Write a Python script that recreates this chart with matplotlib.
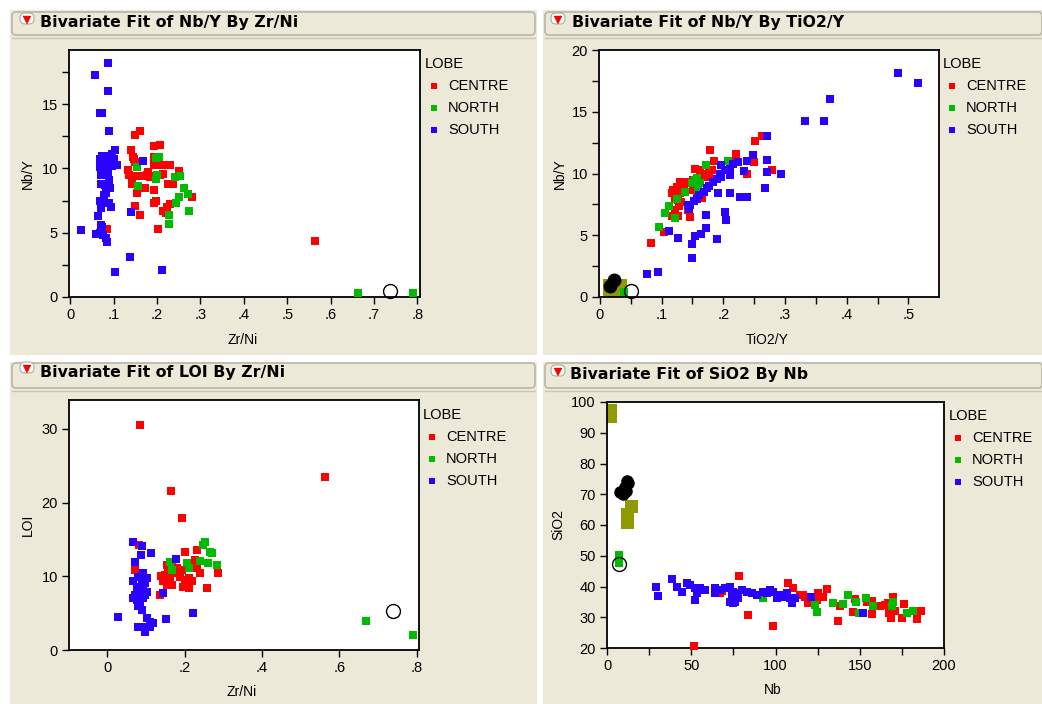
import matplotlib
matplotlib.use("Agg")
import matplotlib.pyplot as plt
from matplotlib.patches import Rectangle, FancyBboxPatch
from matplotlib.ticker import FuncFormatter, MultipleLocator

W, H = 1042, 704
plt.rcParams['font.family'] = ['Liberation Sans', 'DejaVu Sans']

groups = ["CENTRE", "NORTH", "SOUTH"]
group_colors = ["#FF0000", "#00BB00", "#2A00FF"]
legend_title = "LOBE"

titles = ["Bivariate Fit of Nb/Y By Zr/Ni", "Bivariate Fit of Nb/Y By TiO2/Y",
          "Bivariate Fit of LOI By Zr/Ni", "Bivariate Fit of SiO2 By Nb"]
xlabels = ["Zr/Ni", "TiO2/Y", "Zr/Ni", "Nb"]
ylabels = ["Nb/Y", "Nb/Y", "LOI", "SiO2"]

# ---------------- Panel 1: Nb/Y by Zr/Ni ----------------
p1_centre_x = [0.160, 0.150, 0.192, 0.207, 0.141, 0.145, 0.150, 0.147, 0.192, 0.199, 0.192, 0.203, 0.214, 0.229,
               0.250, 0.133, 0.135, 0.143, 0.143, 0.154, 0.165, 0.177, 0.184, 0.195, 0.207, 0.213, 0.180, 0.173,
               0.154, 0.194, 0.226, 0.237, 0.280, 0.198, 0.192, 0.229, 0.222, 0.214, 0.220, 0.148, 0.160, 0.201,
               0.085, 0.070, 0.564]
p1_centre_y = [12.93, 12.6, 11.74, 11.8, 11.4, 10.9, 10.5, 10.7, 10.9, 10.6, 10.26, 10.26, 10.26, 10.26,
               9.8, 9.87, 9.5, 9.0, 8.75, 9.4, 9.4, 9.5, 9.3, 9.4, 9.5, 9.6, 9.7, 8.45,
               8.1, 8.3, 8.8, 8.8, 7.8, 7.5, 7.3, 7.2, 7.0, 6.7, 6.5, 7.1, 6.4, 5.3,
               5.26, 7.3, 4.37]
p1_north_x = [0.154, 0.198, 0.205, 0.199, 0.197, 0.156, 0.241, 0.253, 0.261, 0.272, 0.250, 0.243, 0.274, 0.228,
              0.228, 0.664, 0.789]
p1_north_y = [10.1, 10.8, 10.9, 9.5, 9.2, 8.65, 9.3, 9.4, 8.45, 8.0, 7.8, 7.3, 6.7, 6.4,
              5.65, 0.26, 0.26]
p1_south_x = [0.086, 0.056, 0.086, 0.069, 0.072, 0.090, 0.104, 0.095, 0.072, 0.080, 0.087, 0.068, 0.076, 0.084,
              0.094, 0.101, 0.107, 0.068, 0.075, 0.082, 0.090, 0.097, 0.071, 0.079, 0.086, 0.090, 0.070, 0.079,
              0.086, 0.092, 0.082, 0.078, 0.068, 0.074, 0.090, 0.094, 0.070, 0.064, 0.070, 0.074, 0.060, 0.068,
              0.076, 0.082, 0.084, 0.024, 0.167, 0.141, 0.137, 0.104, 0.211]
p1_south_y = [18.2, 17.3, 16.0, 14.3, 14.35, 12.9, 11.4, 11.1, 11.0, 11.0, 10.9, 10.7, 10.6, 10.7,
              10.8, 10.7, 10.3, 10.1, 10.0, 10.1, 10.2, 10.2, 9.5, 9.5, 9.6, 9.1, 8.8, 8.7,
              8.6, 8.5, 8.1, 7.9, 7.5, 7.5, 7.3, 7.0, 6.9, 6.3, 5.6, 5.4, 4.9, 5.0,
              4.8, 4.6, 4.3, 5.2, 10.6, 6.6, 3.1, 1.9, 2.05]
p1_open_x = [0.738]
p1_open_y = [0.47]

# ---------------- Panel 2: Nb/Y by TiO2/Y ----------------
p2_centre_x = [0.263, 0.251, 0.178, 0.220, 0.221, 0.185, 0.249, 0.279, 0.238, 0.154, 0.162, 0.170, 0.176, 0.181,
               0.176, 0.168, 0.159, 0.151, 0.146, 0.135, 0.129, 0.125, 0.119, 0.116, 0.124, 0.130, 0.137, 0.122,
               0.127, 0.132, 0.128, 0.122, 0.116, 0.127, 0.146, 0.103, 0.083, 0.151, 0.157, 0.165, 0.142]
p2_centre_y = [13.0, 12.6, 11.9, 11.6, 11.3, 11.04, 10.96, 10.3, 9.93, 10.34, 10.28, 10.0, 10.1, 10.3,
               9.75, 9.7, 9.5, 9.5, 9.3, 9.35, 9.3, 8.93, 8.7, 8.4, 8.4, 8.45, 8.66, 8.0,
               7.85, 7.7, 7.37, 7.04, 6.56, 6.56, 6.5, 5.29, 4.34, 8.66, 8.4, 8.0, 7.04]
p2_north_x = [0.172, 0.154, 0.157, 0.150, 0.162, 0.159, 0.138, 0.125, 0.112, 0.105, 0.121, 0.096, 0.208, 0.039]
p2_north_y = [10.7, 9.5, 9.6, 9.2, 9.2, 8.66, 8.53, 7.93, 7.4, 6.8, 6.4, 5.7, 11.0, 0.38]
p2_south_x = [0.484, 0.515, 0.373, 0.332, 0.364, 0.270, 0.270, 0.270, 0.293, 0.268, 0.248, 0.238, 0.234, 0.224,
              0.215, 0.211, 0.203, 0.196, 0.194, 0.197, 0.189, 0.183, 0.177, 0.173, 0.168, 0.161, 0.157, 0.152,
              0.146, 0.142, 0.211, 0.227, 0.238, 0.192, 0.211, 0.172, 0.202, 0.204, 0.112, 0.126, 0.172, 0.164,
              0.154, 0.190, 0.149, 0.149, 0.077, 0.094, 0.145]
p2_south_y = [18.16, 17.35, 16.03, 14.25, 14.25, 13.0, 11.1, 10.1, 10.0, 8.8, 11.5, 11.0, 10.2, 10.96,
              10.8, 10.4, 10.3, 10.7, 10.0, 9.74, 9.53, 9.34, 9.0, 8.8, 8.53, 8.26, 7.91, 7.8,
              7.45, 7.45, 9.87, 8.07, 8.12, 8.4, 8.4, 6.6, 6.91, 6.24, 5.37, 4.8, 5.6, 5.1,
              4.94, 4.7, 4.26, 3.13, 1.9, 2.0, 7.1]
p2_black_x = [0.016, 0.022]
p2_black_y = [0.89, 1.4]
p2_open_x = [0.050]
p2_open_y = [0.51]
p2_olive_x0, p2_olive_x1 = [0.005], [0.043]
p2_olive_y0, p2_olive_y1 = [0.02], [1.46]

# ---------------- Panel 3: LOI by Zr/Ni ----------------
p3_centre_x = [0.085, 0.164, 0.194, 0.564, 0.201, 0.232, 0.072, 0.083, 0.287, 0.257, 0.241, 0.137, 0.154, 0.167,
               0.179, 0.192, 0.205, 0.218, 0.227, 0.231, 0.149, 0.162, 0.175, 0.188, 0.201, 0.210, 0.218, 0.145,
               0.154, 0.167, 0.197, 0.210, 0.140, 0.158]
p3_centre_y = [30.5, 21.5, 17.9, 23.4, 13.3, 13.6, 10.9, 14.3, 10.5, 8.45, 10.4, 7.5, 11.5, 11.3,
               11.1, 10.85, 11.3, 11.5, 12.2, 11.1, 10.2, 9.7, 10.4, 9.95, 9.5, 9.7, 9.4, 9.3,
               8.8, 8.8, 8.6, 8.4, 10.0, 10.5]
p3_north_x = [0.253, 0.248, 0.266, 0.272, 0.162, 0.167, 0.207, 0.210, 0.240, 0.261, 0.283, 0.670, 0.790]
p3_north_y = [14.7, 14.25, 13.3, 13.1, 12.0, 10.85, 11.8, 11.1, 12.1, 11.85, 11.5, 3.9, 2.04]
p3_south_x = [0.067, 0.089, 0.113, 0.086, 0.072, 0.178, 0.093, 0.102, 0.089, 0.097, 0.067, 0.076, 0.085, 0.093,
              0.102, 0.067, 0.076, 0.085, 0.093, 0.080, 0.089, 0.072, 0.097, 0.085, 0.080, 0.089, 0.076, 0.102,
              0.110, 0.097, 0.080, 0.110, 0.097, 0.119, 0.028, 0.152, 0.221, 0.143]
p3_south_y = [14.7, 14.1, 13.2, 12.9, 12.0, 12.4, 10.4, 9.7, 9.3, 9.05, 9.3, 8.6, 8.4, 8.15,
              7.9, 7.0, 6.8, 6.55, 7.0, 5.9, 5.4, 7.46, 7.46, 7.46, 9.9, 10.0, 7.9, 4.3,
              3.85, 3.16, 3.16, 3.16, 2.5, 3.6, 4.5, 4.2, 5.06, 7.7]
p3_open_x = [0.740]
p3_open_y = [5.3]

# ---------------- Panel 4: SiO2 by Nb ----------------
p4_centre_x = [78.5, 83.5, 98.3, 51.6, 67.1, 107.6, 110.6, 114.5, 117.5, 119.5, 122.4, 125.4, 128.4, 130.4,
               124.4, 137.3, 138.3, 147.2, 146.2, 154.2, 157.1, 157.1, 162.0, 165.0, 167.0, 169.6, 169.0, 167.6,
               170.9, 168.4, 174.9, 176.3, 183.8, 186.2, 121.5, 116.5, 68.0]
p4_centre_y = [43.5, 30.7, 27.2, 20.6, 37.8, 41.0, 39.4, 37.2, 36.7, 34.7, 35.6, 37.8, 36.7, 39.2,
               35.6, 28.9, 33.7, 35.8, 31.8, 35.1, 35.4, 31.0, 33.7, 34.0, 34.5, 36.7, 32.9, 31.5,
               32.1, 29.9, 29.7, 34.3, 29.3, 32.1, 35.1, 37.2, 38.5]
p4_north_x = [123.4, 124.4, 134.3, 140.2, 143.2, 147.8, 149.8, 153.7, 158.0, 169.0, 169.6, 177.9, 181.4, 92.8,
              7.4, 7.1]
p4_north_y = [34.0, 31.8, 34.5, 34.3, 37.2, 35.1, 31.5, 36.2, 33.7, 33.7, 35.1, 31.3, 32.1, 36.2,
              50.2, 47.7]
p4_south_x = [29.1, 30.1, 38.4, 41.4, 44.3, 47.3, 49.3, 52.2, 53.2, 52.2, 55.2, 58.2, 64.1, 64.1,
              67.1, 70.0, 73.0, 75.0, 76.0, 74.0, 77.0, 78.0, 75.0, 79.9, 82.9, 85.9, 88.8, 92.8,
              94.8, 96.7, 98.7, 100.7, 102.7, 104.6, 106.6, 108.6, 109.6, 100.7, 111.6, 121.1, 151.8, 73.0]
p4_south_y = [39.7, 37.0, 42.3, 39.9, 38.3, 41.2, 40.5, 39.4, 37.8, 35.6, 39.4, 38.9, 39.4, 37.8,
              38.9, 39.4, 39.9, 38.3, 35.1, 37.2, 37.8, 36.2, 34.7, 38.9, 38.3, 37.8, 37.2, 38.3,
              37.8, 38.9, 38.3, 37.2, 37.2, 36.7, 37.8, 36.2, 34.5, 36.2, 36.2, 36.5, 31.3, 35.1]
p4_black_x = [11.7, 12.5, 10.5, 7.7, 9.5, 11.0]
p4_black_y = [74.3, 73.5, 72.5, 70.8, 70.2, 71.0]
p4_open_x = [7.1]
p4_open_y = [47.3]
p4_olive_x0, p4_olive_x1 = [0.2, 8.1, 10.7], [6.1, 16.0, 18.6]
p4_olive_y0, p4_olive_y1 = [93.3, 58.7, 63.8], [99.2, 65.6, 68.1]

# ---------------- figure ----------------
fig = plt.figure(figsize=(W / 100, H / 100), dpi=100)
fig.patch.set_facecolor("white")

ov = fig.add_axes([0, 0, 1, 1])
ov.set_xlim(0, W)
ov.set_ylim(H, 0)
ov.axis("off")
ov.set_zorder(0)

BEIGE = "#ECE9D8"
panels = [(10, 10, 537, 355), (543, 10, 1042, 355), (10, 362, 537, 704), (543, 362, 1042, 704)]
bars = [(12, 12, 535, 35), (545, 12, 1042, 35), (12, 363, 535, 388), (545, 363, 1042, 388)]
title_pos = [(40, 22), (572, 22), (40, 372), (570, 374)]
icon_pos = [(27, 19), (558, 19), (27, 368), (558, 371)]

for (l, t, r, b) in panels:
    ov.add_patch(Rectangle((l, t), r - l, b - t, facecolor=BEIGE, edgecolor="none"))
for (l, t, r, b) in bars:
    ov.add_patch(FancyBboxPatch((l, t), r - l, b - t, boxstyle="round,pad=0,rounding_size=4",
                                facecolor=BEIGE, edgecolor="#B9B6A6", linewidth=1.2))
    ov.plot([l, r], [b + 3, b + 3], color="#C9C6B6", lw=1)
for (x, y), txt in zip(title_pos, titles):
    ov.text(x, y, txt, fontsize=11.3, fontweight="bold", family="DejaVu Sans", va="center", ha="left")
for (x, y) in icon_pos:
    ov.add_patch(FancyBboxPatch((x - 7, y - 6), 14, 11, boxstyle="round,pad=0,rounding_size=5",
                                facecolor="white", edgecolor="#B0AC9C", linewidth=0.8))
    ov.plot([x], [y + 0.5], marker="v", ms=5.5, color="#FF0000", mec="#CC0000", mew=0.3)


def add_px_axes(l, t, r, b):
    ax = fig.add_axes([l / W, 1 - b / H, (r - l) / W, (b - t) / H])
    ax.set_zorder(1)
    ax.set_facecolor("white")
    for s in ax.spines.values():
        s.set_linewidth(1.3)
    ax.tick_params(which="both", direction="out", length=5, width=1, labelsize=10.5, pad=3)
    return ax


def dotfmt(v, _):
    if abs(v) < 1e-9:
        return "0"
    s = ("%.2f" % v).rstrip("0").rstrip(".")
    return s.replace("0.", ".", 1) if s.startswith("0.") else s


axes_px = [(69, 50, 420, 297), (599, 50, 939, 297), (69, 400, 419, 650), (607, 402, 944, 648)]
xlims = [(-0.003, 0.806), (-0.0016, 0.5497), (-0.099, 0.806), (0, 200)]
ylims = [(-0.02, 19.23), (0, 20), (0, 33.9), (20, 100)]

axs = [add_px_axes(*p) for p in axes_px]
for ax, xl, yl in zip(axs, xlims, ylims):
    ax.set_xlim(*xl)
    ax.set_ylim(*yl)

# tick setup
axs[0].xaxis.set_major_locator(MultipleLocator(0.1))
axs[0].yaxis.set_major_locator(MultipleLocator(5))
axs[0].yaxis.set_minor_locator(MultipleLocator(2.5))
axs[1].xaxis.set_major_locator(MultipleLocator(0.1))
axs[1].xaxis.set_minor_locator(MultipleLocator(0.05))
axs[1].yaxis.set_major_locator(MultipleLocator(5))
axs[1].yaxis.set_minor_locator(MultipleLocator(2.5))
axs[2].xaxis.set_major_locator(MultipleLocator(0.2))
axs[2].yaxis.set_major_locator(MultipleLocator(10))
axs[3].xaxis.set_major_locator(MultipleLocator(50))
axs[3].xaxis.set_minor_locator(MultipleLocator(25))
axs[3].yaxis.set_major_locator(MultipleLocator(10))
for ax in axs[:3]:
    ax.xaxis.set_major_formatter(FuncFormatter(dotfmt))
for ax in axs:
    ax.tick_params(which="minor", length=5, width=1)

data = [
    [(p1_centre_x, p1_centre_y), (p1_north_x, p1_north_y), (p1_south_x, p1_south_y)],
    [(p2_centre_x, p2_centre_y), (p2_north_x, p2_north_y), (p2_south_x, p2_south_y)],
    [(p3_centre_x, p3_centre_y), (p3_north_x, p3_north_y), (p3_south_x, p3_south_y)],
    [(p4_centre_x, p4_centre_y), (p4_north_x, p4_north_y), (p4_south_x, p4_south_y)],
]

OLIVE = "#8E9A00"
for x0, x1, y0, y1 in zip(p2_olive_x0, p2_olive_x1, p2_olive_y0, p2_olive_y1):
    axs[1].add_patch(Rectangle((x0, y0), x1 - x0, y1 - y0, facecolor=OLIVE, edgecolor="none", zorder=1))
for x0, x1, y0, y1 in zip(p4_olive_x0, p4_olive_x1, p4_olive_y0, p4_olive_y1):
    axs[3].add_patch(Rectangle((x0, y0), x1 - x0, y1 - y0, facecolor=OLIVE, edgecolor="none", zorder=1))

for ax, series in zip(axs, data):
    for (xs, ys), c in zip(series, group_colors):
        ax.scatter(xs, ys, marker="s", s=30, color=c, linewidths=0, zorder=3, clip_on=False)

axs[1].plot(p2_black_x, p2_black_y, "o", ms=9, color="black", zorder=4, clip_on=False)
axs[3].plot(p4_black_x, p4_black_y, "o", ms=8, color="black", zorder=4)
for ax, ox, oy in [(axs[0], p1_open_x, p1_open_y), (axs[1], p2_open_x, p2_open_y),
                   (axs[2], p3_open_x, p3_open_y), (axs[3], p4_open_x, p4_open_y)]:
    ax.plot(ox, oy, "o", ms=10, mfc="none", mec="black", mew=1.0, zorder=5, clip_on=False)

# axis labels and legends in pixel coords
xlabel_pos = [(243, 340), (767, 340), (242, 692), (773, 690)]
ylabel_pos = [(28, 174), (560, 174), (28, 525), (558, 525)]
legend_pos = [(425, 64), (943, 64), (423, 415), (949, 416)]
for (x, y), t in zip(xlabel_pos, xlabels):
    ov.text(x, y, t, fontsize=10, ha="center", va="center")
for (x, y), t in zip(ylabel_pos, ylabels):
    ov.text(x, y, t, fontsize=10, ha="center", va="center", rotation=90)
for (x, y) in legend_pos:
    ov.text(x, y, legend_title, fontsize=10.5, ha="left", va="center")
    for i, (g, c) in enumerate(zip(groups, group_colors)):
        yy = y + 22 * (i + 1)
        ov.plot([x + 9], [yy], "s", ms=4, color=c, mew=0)
        ov.text(x + 23, yy, g, fontsize=10.5, ha="left", va="center")

fig.savefig("out.png", dpi=100, facecolor=fig.get_facecolor())
